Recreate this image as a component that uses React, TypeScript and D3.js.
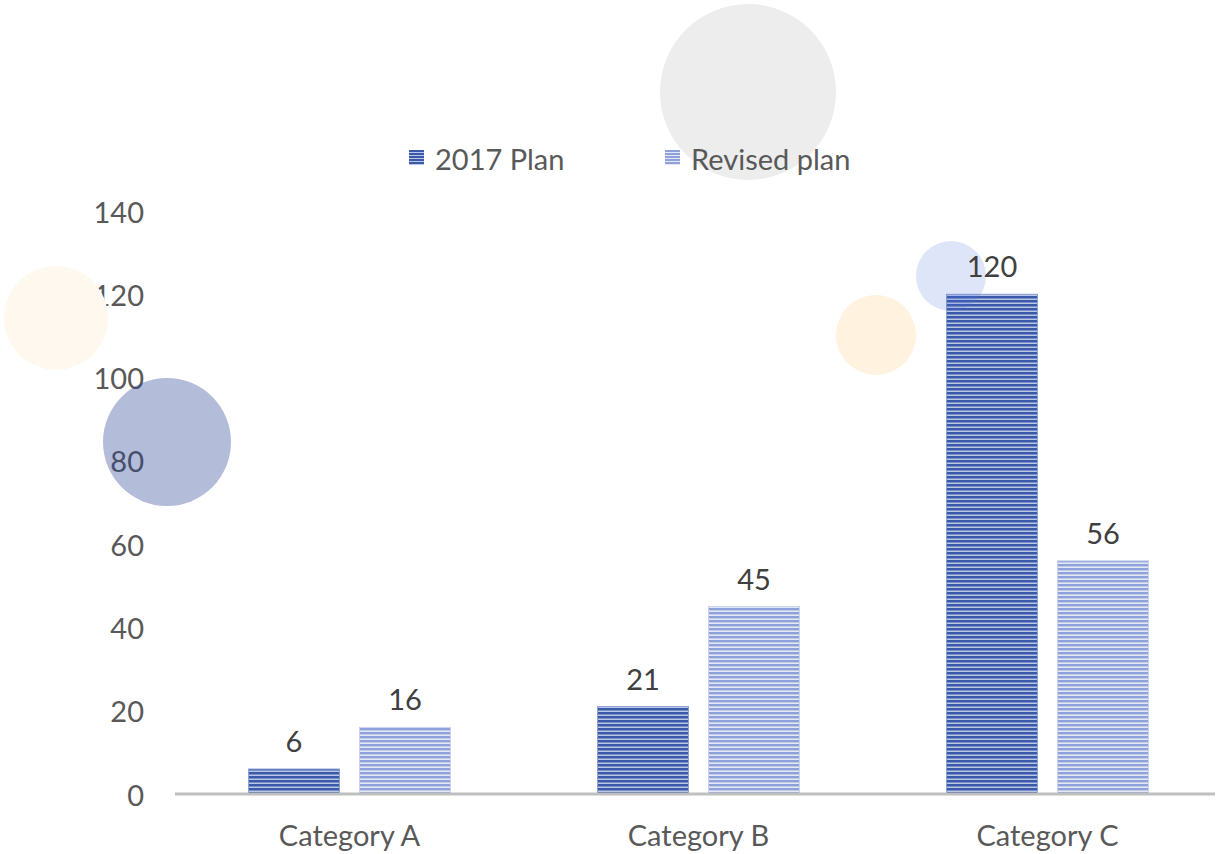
import React from "react";
import * as d3 from "d3";

const categories = ["Category A", "Category B", "Category C"];
const seriesNames = ["2017 Plan", "Revised plan"];
const plan2017 = [6, 21, 120];
const revisedPlan = [16, 45, 56];
const yTicks = [0, 20, 40, 60, 80, 100, 120, 140];

const W = 1223;
const H = 854;
const FONT = "Lato, 'Open Sans', sans-serif";
const FS = 29;

export default function App() {
  const y = d3.scaleLinear().domain([0, 140]).range([794, 211]);
  const x = d3.scaleBand<string>().domain(categories).range([175, 1222]).padding(0);
  const bw = x.bandwidth();
  const outer = 73.5;
  const xs = d3
    .scaleBand<string>()
    .domain(seriesNames)
    .range([outer, bw - outer])
    .paddingInner(0.18)
    .paddingOuter(0);
  const series = [plan2017, revisedPlan];
  const fills = ["url(#stripeDark)", "url(#stripeLight)"];
  const edge = ["#8fa2d6", "#c9d3ef"];

  return (
    <svg
      width={W}
      height={H}
      style={{ position: "absolute", left: 0, top: 0, background: "#fff" }}
    >
      <defs>
        <pattern id="stripeDark" patternUnits="userSpaceOnUse" width={8} height={4}>
          <rect width={8} height={4} fill="#b9c6e8" />
          <rect width={8} height={2.5} fill="#3a5aa8" />
        </pattern>
        <pattern id="stripeLight" patternUnits="userSpaceOnUse" width={8} height={4}>
          <rect width={8} height={4} fill="#e2e8f6" />
          <rect width={8} height={2.4} fill="#8ea1da" />
        </pattern>
        <pattern id="swDark" patternUnits="userSpaceOnUse" width={8} height={3} y={150}>
          <rect width={8} height={3} fill="#b9c6e8" />
          <rect width={8} height={2} fill="#3a5aa8" />
        </pattern>
        <pattern id="swLight" patternUnits="userSpaceOnUse" width={8} height={3} y={150}>
          <rect width={8} height={3} fill="#e2e8f6" />
          <rect width={8} height={2} fill="#8ea1da" />
        </pattern>
      </defs>

      {/* background decorative grey circle */}
      <circle cx={748} cy={92} r={88} fill="#ededed" />

      {/* legend */}
      <g fontFamily={FONT} fontSize={FS} fill="#595959">
        <rect x={409} y={150} width={15} height={15} fill="url(#swDark)" />
        <text x={435} y={158} dominantBaseline="central">
          {seriesNames[0]}
        </text>
        <rect x={665} y={150} width={15} height={15} fill="url(#swLight)" />
        <text x={691} y={158} dominantBaseline="central">
          {seriesNames[1]}
        </text>
      </g>

      {/* y tick labels */}
      <g fontFamily={FONT} fontSize={FS} fill="#595959" textAnchor="end">
        {yTicks.map((t) => (
          <text key={t} x={144} y={y(t)} dominantBaseline="central">
            {t}
          </text>
        ))}
      </g>

      {/* bars */}
      {categories.map((c, ci) =>
        series.map((s, si) => {
          const bx = (x(c) as number) + (xs(seriesNames[si]) as number);
          const by = y(s[ci]);
          return (
            <rect
              key={c + si}
              x={bx}
              y={by}
              width={xs.bandwidth()}
              height={y(0) - by}
              fill={fills[si]}
              stroke={edge[si]}
              strokeWidth={1}
            />
          );
        })
      )}

      {/* axis line */}
      <line x1={175} x2={1215} y1={y(0)} y2={y(0)} stroke="#bfbfbf" strokeWidth={3} />

      {/* category labels */}
      <g fontFamily={FONT} fontSize={FS} fill="#595959" textAnchor="middle">
        {categories.map((c) => (
          <text key={c} x={(x(c) as number) + bw / 2} y={846}>
            {c}
          </text>
        ))}
      </g>

      {/* decorative circles */}
      <circle cx={56} cy={318} r={52} fill="#fff8ee" />
      <circle cx={167} cy={442} r={64} fill="#1f3c8f" fillOpacity={0.34} />
      <circle cx={876} cy={335} r={40} fill="#fff2de" />
      <circle cx={951} cy={276} r={35} fill="#4f6fdf" fillOpacity={0.18} />

      {/* value labels */}
      <g fontFamily={FONT} fontSize={FS} fill="#404040" textAnchor="middle">
        {categories.map((c, ci) =>
          series.map((s, si) => {
            const bx = (x(c) as number) + (xs(seriesNames[si]) as number) + xs.bandwidth() / 2;
            return (
              <text key={c + "l" + si} x={bx} y={y(s[ci]) - 17}>
                {s[ci]}
              </text>
            );
          })
        )}
      </g>
    </svg>
  );
}
